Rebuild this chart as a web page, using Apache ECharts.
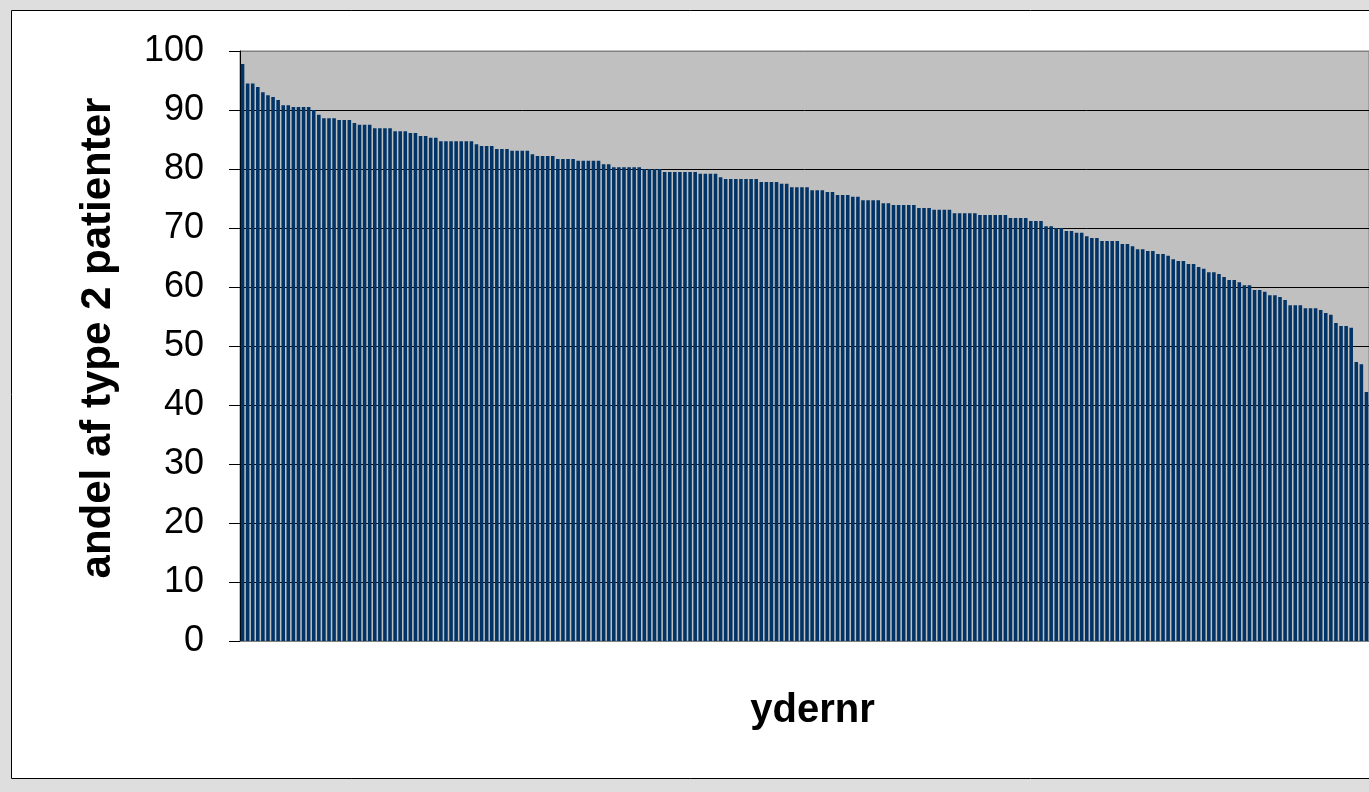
<!DOCTYPE html>
<html>
<head>
<meta charset="utf-8">
<title>andel af type 2 patienter</title>
<script src="https://cdn.jsdelivr.net/npm/echarts@6/dist/echarts.min.js"></script>
<style>
  html, body { margin: 0; padding: 0; background: #dedede; }
  #chart { width: 1369px; height: 792px; }
</style>
</head>
<body>
<div id="chart"></div>
<script>
// Share of type 2 patients per practice (ydernr), sorted descending
const values = [
  97.8, 94.5, 94.5, 93.9, 93.0, 92.5, 92.2, 91.7, 90.8, 90.8,
  90.5, 90.5, 90.5, 90.5, 90.0, 89.2, 88.6, 88.6, 88.6, 88.3,
  88.3, 88.3, 87.8, 87.5, 87.5, 87.5, 86.9, 86.9, 86.9, 86.9,
  86.4, 86.4, 86.4, 86.1, 86.1, 85.6, 85.6, 85.3, 85.3, 84.7,
  84.7, 84.7, 84.7, 84.7, 84.7, 84.7, 84.2, 83.9, 83.9, 83.9,
  83.4, 83.4, 83.4, 83.1, 83.1, 83.1, 83.1, 82.5, 82.2, 82.2,
  82.2, 82.2, 81.7, 81.7, 81.7, 81.7, 81.4, 81.4, 81.4, 81.4,
  81.4, 80.8, 80.8, 80.3, 80.3, 80.3, 80.3, 80.3, 80.3, 80.0,
  80.0, 80.0, 80.0, 79.5, 79.5, 79.5, 79.5, 79.5, 79.5, 79.5,
  79.2, 79.2, 79.2, 79.2, 78.6, 78.3, 78.3, 78.3, 78.3, 78.3,
  78.3, 78.3, 77.8, 77.8, 77.8, 77.8, 77.5, 77.5, 76.9, 76.9,
  76.9, 76.9, 76.4, 76.4, 76.4, 76.1, 76.1, 75.6, 75.6, 75.6,
  75.3, 75.3, 74.7, 74.7, 74.7, 74.7, 74.2, 74.2, 73.9, 73.9,
  73.9, 73.9, 73.9, 73.4, 73.4, 73.4, 73.1, 73.1, 73.1, 73.1,
  72.5, 72.5, 72.5, 72.5, 72.5, 72.2, 72.2, 72.2, 72.2, 72.2,
  72.2, 71.7, 71.7, 71.7, 71.7, 71.2, 71.2, 71.2, 70.3, 70.3,
  70.0, 70.0, 69.5, 69.5, 69.2, 69.2, 68.6, 68.3, 68.3, 67.8,
  67.8, 67.8, 67.8, 67.3, 67.3, 66.9, 66.4, 66.4, 66.1, 66.1,
  65.6, 65.6, 65.3, 64.7, 64.4, 64.4, 63.9, 63.9, 63.4, 63.1,
  62.5, 62.5, 62.2, 61.7, 61.2, 61.2, 60.8, 60.3, 60.3, 59.5,
  59.5, 59.2, 58.6, 58.6, 58.3, 57.8, 56.9, 56.9, 56.9, 56.4,
  56.4, 56.4, 56.1, 55.6, 55.3, 53.9, 53.4, 53.4, 53.1, 47.3,
  46.9, 42.2
];
const categories = values.map((_, i) => String(i + 1));
const yTicks = [0, 10, 20, 30, 40, 50, 60, 70, 80, 90, 100];
const yTitle = 'andel af type 2 patienter';
const xTitle = 'ydernr';

const chart = echarts.init(document.getElementById('chart'), null, { renderer: 'canvas' });
const gridLineColors = yTicks.map(v => (v === 0 || v === 100) ? '#808080' : '#000000');

chart.setOption({
  animation: false,
  backgroundColor: '#dedede',
  graphic: [{
    type: 'rect',
    z: -10,
    shape: { x: 11.5, y: 10.5, width: 1400, height: 768 },
    style: { fill: '#ffffff', stroke: '#000000', lineWidth: 1 }
  }],
  grid: {
    left: 240, top: 51, width: 1130, height: 590,
    show: true, backgroundColor: '#c0c0c0', borderColor: '#808080', borderWidth: 1,
    containLabel: false
  },
  xAxis: {
    type: 'category',
    data: categories,
    name: xTitle,
    nameLocation: 'middle',
    nameGap: 50,
    nameTextStyle: { fontFamily: 'Liberation Sans', fontSize: 40, fontWeight: 'bold', color: '#000', padding: [0, 0, 0, 16] },
    axisLine: { show: true, lineStyle: { color: '#808080', width: 1 } },
    axisTick: { show: false },
    axisLabel: { show: false },
    splitLine: { show: false }
  },
  yAxis: {
    type: 'value',
    min: 0, max: 100, interval: 10,
    name: yTitle,
    nameLocation: 'middle',
    nameGap: 121,
    nameRotate: 90,
    nameTextStyle: { fontFamily: 'Liberation Sans', fontSize: 42, fontWeight: 'bold', color: '#000', padding: [0, 0, 0, 16] },
    axisLine: { show: true, lineStyle: { color: '#000', width: 1 } },
    axisTick: { show: true, length: 11, lineStyle: { color: '#000', width: 1 } },
    axisLabel: {
      fontFamily: 'Liberation Sans', fontSize: 36, color: '#000', margin: 36,
      formatter: v => yTicks.includes(v) ? String(v) : ''
    },
    splitLine: { show: true, lineStyle: { color: gridLineColors, width: 1 } }
  },
  series: [{
    type: 'bar',
    data: values,
    barCategoryGap: '30%',
    itemStyle: { color: '#003366' },
    emphasis: { disabled: true }
  }]
});
</script>
</body>
</html>
